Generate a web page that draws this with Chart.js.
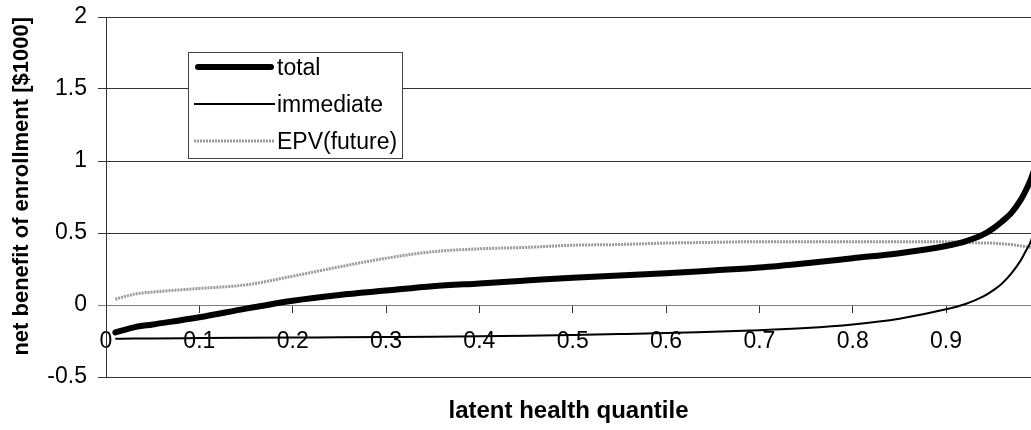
<!DOCTYPE html>
<html>
<head>
<meta charset="utf-8">
<script src="https://cdn.jsdelivr.net/npm/chart.js@4.4.1/dist/chart.umd.min.js"></script>
<style>
  html, body { margin: 0; padding: 0; background: #fff; }
  #wrap { width: 1031px; height: 430px; }
</style>
</head>
<body>
<div id="wrap"><canvas id="chart"></canvas></div>
<script>
// latent health quantile (x) and the three benefit curves, in $1000
const quantile = [0.01, 0.03, 0.05, 0.1, 0.15, 0.2, 0.25, 0.3, 0.35, 0.4, 0.45, 0.5, 0.55, 0.6,
  0.65, 0.7, 0.75, 0.8, 0.85, 0.9, 0.92, 0.94, 0.95, 0.96, 0.97, 0.98, 0.985, 0.99, 0.995];
const totalBenefit = [-0.19, -0.155, -0.135, -0.085, -0.025, 0.03, 0.07, 0.1, 0.13, 0.15, 0.17,
  0.19, 0.205, 0.22, 0.24, 0.26, 0.29, 0.325, 0.36, 0.41, 0.44, 0.49, 0.53, 0.58, 0.64, 0.73,
  0.79, 0.86, 0.95];
const immediateBenefit = [-0.235, -0.233, -0.232, -0.23, -0.228, -0.226, -0.224, -0.222, -0.22,
  -0.217, -0.213, -0.208, -0.202, -0.195, -0.185, -0.175, -0.16, -0.135, -0.095, -0.03, 0.005,
  0.06, 0.1, 0.15, 0.22, 0.31, 0.37, 0.43, 0.52];
const futureBenefit = [0.04, 0.075, 0.09, 0.115, 0.14, 0.2, 0.265, 0.325, 0.37, 0.39, 0.4,
  0.415, 0.42, 0.43, 0.435, 0.44, 0.44, 0.44, 0.44, 0.44, 0.435, 0.43, 0.43, 0.425, 0.42, 0.41,
  0.405, 0.4, 0.39];
const seriesLabels = ["total", "immediate", "EPV(future)"];
const xTickValues = [0, 0.1, 0.2, 0.3, 0.4, 0.5, 0.6, 0.7, 0.8, 0.9];
const yTickValues = [-0.5, 0, 0.5, 1, 1.5, 2];

const FONT = "'Liberation Sans', Arial, Helvetica, sans-serif";

const toPoints = (ys) => ys.map((y, i) => ({ x: quantile[i], y }));

// legend drawn inside the plot, with a white box and border like the original
const boxLegend = {
  id: "boxLegend",
  afterDraw(chart) {
    const ctx = chart.ctx;
    const left = 188, top = 52, width = 214, height = 106;
    const rowY = [67, 104, 141];
    ctx.save();
    ctx.fillStyle = "#fff";
    ctx.fillRect(left, top, width, height);
    ctx.strokeStyle = "#444";
    ctx.lineWidth = 1;
    ctx.strokeRect(left + 0.5, top + 0.5, width, height);
    chart.data.datasets.forEach((ds, i) => {
      ctx.beginPath();
      ctx.strokeStyle = ds.borderColor;
      ctx.lineWidth = ds.borderWidth;
      ctx.lineCap = ds.borderCapStyle || "butt";
      ctx.setLineDash(ds.borderDash || []);
      const inset = ds.borderCapStyle === "round" ? 4 : 0;
      ctx.moveTo(194 + inset, rowY[i]);
      ctx.lineTo(275 - inset, rowY[i]);
      ctx.stroke();
      ctx.setLineDash([]);
      ctx.fillStyle = "#000";
      ctx.font = "23px " + FONT;
      ctx.textBaseline = "middle";
      ctx.textAlign = "left";
      ctx.fillText(ds.label, 277, rowY[i] + 2);
    });
    ctx.restore();
  }
};

// x axis title sits under the plot, centred on the plot area
const xTitle = {
  id: "xTitle",
  afterDraw(chart) {
    const { ctx, chartArea } = chart;
    ctx.save();
    ctx.fillStyle = "#000";
    ctx.font = "bold 24px " + FONT;
    ctx.textAlign = "center";
    ctx.textBaseline = "middle";
    ctx.fillText("latent health quantile", (chartArea.left + chartArea.right) / 2, 411);
    ctx.restore();
  }
};

new Chart(document.getElementById("chart"), {
  type: "line",
  data: {
    datasets: [
      {
        label: seriesLabels[0],
        data: toPoints(totalBenefit),
        borderColor: "#000",
        borderWidth: 6,
        borderCapStyle: "round",
      },
      {
        label: seriesLabels[1],
        data: toPoints(immediateBenefit),
        borderColor: "#000",
        borderWidth: 2,
      },
      {
        label: seriesLabels[2],
        data: toPoints(futureBenefit),
        borderColor: "#9a9a9a",
        borderWidth: 3,
        borderDash: [2, 1],
      },
    ],
  },
  options: {
    responsive: true,
    maintainAspectRatio: false,
    animation: false,
    layout: { padding: { top: 17, right: 0, bottom: 53, left: 0 } },
    elements: {
      point: { radius: 0 },
      line: { cubicInterpolationMode: "monotone", fill: false },
    },
    plugins: {
      legend: { display: false },
      tooltip: { enabled: false },
    },
    scales: {
      x: {
        type: "linear",
        position: { y: 0 },
        min: 0,
        max: 0.991,
        afterBuildTicks: (s) => { s.ticks = xTickValues.map((v) => ({ value: v })); },
        ticks: {
          color: "#000",
          font: { family: FONT, size: 23 },
          padding: 16,
          maxRotation: 0,
          autoSkip: false,
          callback: (v) => String(Math.round(v * 10) / 10),
        },
        grid: { drawOnChartArea: false, tickLength: 7, color: "#333" },
        border: { color: "#808080", width: 1 },
      },
      y: {
        type: "linear",
        min: -0.5,
        max: 2,
        afterBuildTicks: (s) => { s.ticks = yTickValues.map((v) => ({ value: v })); },
        afterFit: (s) => {
          s.width = 106;
          // keep the plot top/bottom where the layout padding puts them
          s.paddingTop = 0;
          s.paddingBottom = 0;
        },
        ticks: {
          color: "#000",
          font: { family: FONT, size: 23 },
          padding: 11,
          callback: (v) => String(v),
        },
        grid: {
          tickLength: 8,
          color: (c) => (c.tick && c.tick.value === 0 ? "#808080" : "#333"),
        },
        border: { color: "#333", width: 1 },
        title: {
          display: true,
          text: "net benefit of enrollment [$1000]",
          align: "end",
          color: "#000",
          font: { family: FONT, size: 22, weight: "bold" },
          padding: { top: 9, bottom: 0 },
        },
      },
    },
  },
  plugins: [boxLegend, xTitle],
});
</script>
</body>
</html>
